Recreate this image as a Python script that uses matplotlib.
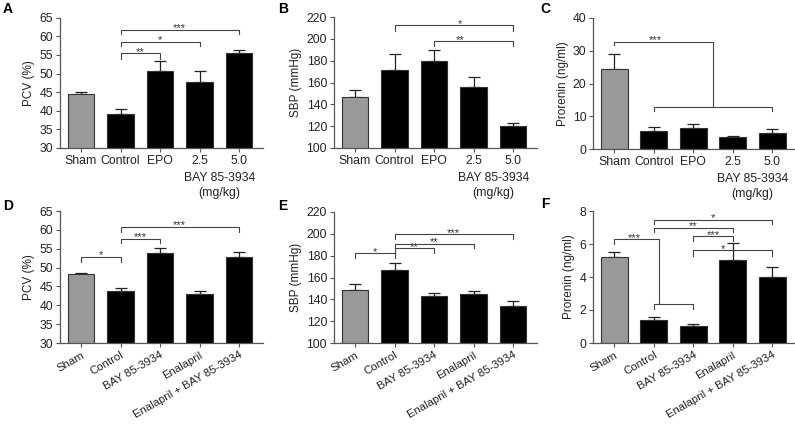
import matplotlib
matplotlib.use("Agg")
import matplotlib.pyplot as plt
import matplotlib.transforms as mtransforms

plt.rcParams['font.family'] = ['Liberation Sans', 'DejaVu Sans']
plt.rcParams['font.size'] = 8

# top row groups
top_groups = ['Sham', 'Control', 'EPO', '2.5', '5.0']
# bottom row groups
bottom_groups = ['Sham', 'Control', 'BAY 85-3934', 'Enalapril', 'Enalapril + BAY 85-3934']

pcv_top = [44.4, 39.2, 50.7, 47.8, 55.4]
pcv_top_err = [0.7, 1.4, 2.7, 3.0, 0.9]
sbp_top = [146.7, 171.1, 179.7, 155.9, 120.5]
sbp_top_err = [6.4, 15.0, 10.1, 9.1, 2.4]
pro_top = [24.5, 5.5, 6.3, 3.8, 5.0]
pro_top_err = [4.5, 1.3, 1.3, 0.3, 1.1]

pcv_bot = [48.2, 43.8, 53.8, 43.1, 52.7]
pcv_bot_err = [0.4, 0.8, 1.5, 0.8, 1.5]
sbp_bot = [148.9, 167.2, 143.4, 145.2, 134.2]
sbp_bot_err = [5.5, 6.4, 2.7, 2.4, 4.3]
pro_bot = [5.19, 1.42, 1.03, 5.02, 3.99]
pro_bot_err = [0.34, 0.16, 0.14, 1.06, 0.61]

# brackets: (x1, x2, y, left drop, right drop, stars, star x)
br_a = [(1, 2, 55.4, 54.0, 54.0, '**', 1.5),
        (1, 3, 58.5, 57.3, 57.3, '*', 2.0),
        (1, 4, 61.8, 60.7, 60.7, '***', 2.5)]
br_b = [(1, 4, 212.4, 207.5, 207.5, '*', 2.65),
        (2, 4, 197.7, 193.1, 193.1, '**', 2.65)]
br_c = [(0, 2.5, 32.7, 31.8, 12.9, '***', 1.03),
        (1, 4, 12.9, 11.6, 11.6, '', 0)]
br_d = [(0, 1, 52.9, 51.5, 51.5, '*', 0.5),
        (1, 2, 57.6, 56.4, 56.4, '***', 1.5),
        (1, 4, 60.8, 59.5, 59.5, '***', 2.5)]
br_e = [(0, 1, 182.4, 177.9, 177.9, '*', 0.5),
        (1, 2, 187.0, 182.4, 182.4, '**', 1.5),
        (1, 3, 191.0, 187.0, 187.0, '**', 2.0),
        (1, 4, 199.8, 195.6, 195.6, '***', 2.5)]
br_f = [(1, 4, 7.47, 7.21, 7.21, '*', 2.5),
        (1, 3, 7.0, 6.7, 6.7, '**', 2.0),
        (2, 3, 6.48, 6.17, 6.17, '***', 2.5),
        (2, 4, 5.61, 5.29, 5.29, '*', 2.75),
        (0, 1.12, 6.28, 6.0, 2.39, '***', 0.5),
        (1, 2, 2.39, 2.08, 2.08, '', 0)]

W, H = 795, 424
AX_COL = '#555555'
TXT = '#222222'
STEP = 39.5  # px between bars
XL = (-0.53, 4.6)


def make_axes(fig, sham_x, top, bottom):
    left = sham_x - (0 - XL[0]) * STEP
    width = (XL[1] - XL[0]) * STEP
    return fig.add_axes([left / W, 1 - bottom / H, width / W, (bottom - top) / H])


def panel(ax, vals, err, ylim, yticks, ylabel, brackets):
    x = list(range(len(vals)))
    colors = ['#999999'] + ['black'] * (len(vals) - 1)
    ax.bar(x, vals, width=0.68, color=colors, edgecolor='#333333', linewidth=0.8, zorder=2)
    ax.errorbar(x, vals, yerr=[[0] * len(err), err], fmt='none', ecolor='#222222',
                elinewidth=0.9, capsize=4.3, capthick=0.9, zorder=1)
    ax.set_xlim(*XL)
    ax.set_ylim(*ylim)
    ax.set_yticks(yticks)
    ax.set_ylabel(ylabel, fontsize=8.5, color=TXT, labelpad=3)
    for s in ['top', 'right']:
        ax.spines[s].set_visible(False)
    for s in ['left', 'bottom']:
        ax.spines[s].set_color(AX_COL)
        ax.spines[s].set_linewidth(0.9)
    ax.tick_params(direction='out', length=3, width=0.8, color=AX_COL,
                   labelsize=8.8, labelcolor=TXT, pad=2)
    ax.set_xticks(x)
    for x1, x2, y, yl, yr, lab, tx in brackets:
        ax.plot([x1, x1, x2, x2], [yl, y, y, yr], color='#444444', lw=0.8,
                clip_on=False, zorder=3)
        if lab:
            ax.annotate(lab, (tx, y), xytext=(0, -1.2), textcoords='offset points',
                        ha='center', va='baseline', fontsize=8, color='#333333')


fig = plt.figure(figsize=(W / 100, H / 100), dpi=100)

ax_a = make_axes(fig, 81, 17.7, 148)
ax_b = make_axes(fig, 355, 17, 148)
ax_c = make_axes(fig, 614.3, 18, 149)
ax_d = make_axes(fig, 81, 211, 343)
ax_e = make_axes(fig, 355, 212, 343)
ax_f = make_axes(fig, 614.3, 211, 343)

panel(ax_a, pcv_top, pcv_top_err, (30, 65), range(30, 66, 5), 'PCV (%)', br_a)
panel(ax_b, sbp_top, sbp_top_err, (100, 220), range(100, 221, 20), 'SBP (mmHg)', br_b)
panel(ax_c, pro_top, pro_top_err, (0, 40), range(0, 41, 10), 'Prorenin (ng/ml)', br_c)
panel(ax_d, pcv_bot, pcv_bot_err, (30, 65), range(30, 66, 5), 'PCV (%)', br_d)
panel(ax_e, sbp_bot, sbp_bot_err, (100, 220), range(100, 221, 20), 'SBP (mmHg)', br_e)
panel(ax_f, pro_bot, pro_bot_err, (0, 8), range(0, 9, 2), 'Prorenin (ng/ml)', br_f)

for ax in [ax_a, ax_b, ax_c]:
    ax.set_xticklabels(top_groups)
    tr = mtransforms.blended_transform_factory(ax.transData, ax.transAxes)
    ax.annotate('BAY 85-3934', (3.5, 0), xycoords=tr, xytext=(0, -21.5),
                textcoords='offset points', ha='center', va='center',
                fontsize=8.8, color=TXT)
    ax.annotate('(mg/kg)', (3.5, 0), xycoords=tr, xytext=(0, -32.5),
                textcoords='offset points', ha='center', va='center',
                fontsize=8.8, color=TXT)

for ax in [ax_d, ax_e, ax_f]:
    ax.set_xticklabels(bottom_groups, rotation=30, ha='right', rotation_mode='anchor',
                       fontsize=8.2)

for lab, px, py in [('A', 8, 9), ('B', 283, 9), ('C', 545, 9),
                    ('D', 8, 206), ('E', 283, 206), ('F', 545, 204)]:
    fig.text(px / W, 1 - py / H, lab, fontsize=10, fontweight='bold',
             ha='center', va='center', color='black')

fig.savefig('out.png', dpi=100)
